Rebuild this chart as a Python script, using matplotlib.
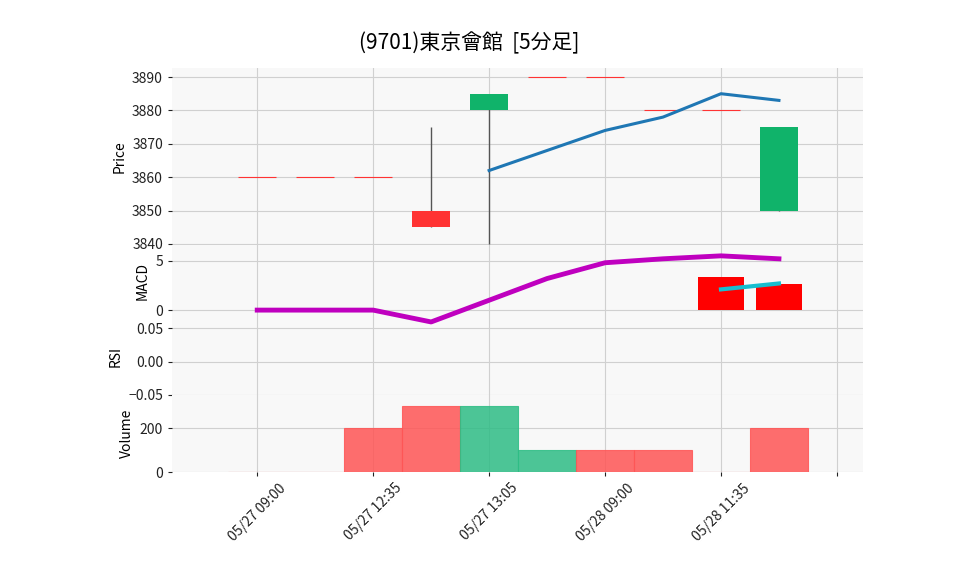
import matplotlib
matplotlib.use("Agg")
import matplotlib.pyplot as plt
import numpy as np

plt.rcParams['font.family'] = ['Noto Sans CJK JP', 'DejaVu Sans']

dates = ["05/27 09:00", "05/27 09:05", "05/27 12:35", "05/27 12:40", "05/27 13:05",
         "05/27 13:10", "05/28 09:00", "05/28 09:05", "05/28 11:35", "05/28 11:40"]
opens  = [3860, 3860, 3860, 3850, 3880, 3890, 3890, 3880, 3880, 3850]
highs  = [3860, 3860, 3860, 3875, 3885, 3890, 3890, 3880, 3880, 3875]
lows   = [3860, 3860, 3860, 3845, 3840, 3890, 3890, 3880, 3880, 3850]
closes = [3860, 3860, 3860, 3845, 3885, 3890, 3890, 3880, 3880, 3875]
ma     = [None, None, None, None, 3862, 3868, 3874, 3878, 3885, 3883]
macd   = [0, 0, 0, -1.2, 1.0, 3.2, 4.8, 5.2, 5.5, 5.2]
signal = [None]*8 + [2.1, 2.7]
hist   = [None]*8 + [3.4, 2.6]
volume = [0, 0, 200, 300, 300, 100, 100, 100, 0, 200]
vol_up = [False, False, False, False, True, True, False, False, False, False]

UP = '#10b36a'; DOWN = '#ff3333'
fig = plt.figure(figsize=(9.58, 5.75), dpi=100)
L, W = 172/958, 691/958
def rect(t, b): return [L, 1-b/575, W, (b-t)/575]
ax1 = fig.add_axes(rect(68, 245))
ax2 = fig.add_axes(rect(245, 318), sharex=ax1)
ax3 = fig.add_axes(rect(318, 395), sharex=ax1)
ax4 = fig.add_axes(rect(395, 472), sharex=ax1)
x = np.arange(len(dates))
for ax in (ax1, ax2, ax3, ax4):
    ax.set_facecolor('#f8f8f8')
    ax.grid(True, color='#d0d0d0', linewidth=0.8)
    ax.set_axisbelow(True)
    for s in ax.spines.values(): s.set_visible(False)
    ax.tick_params(length=3, labelsize=10, colors='#222222')

bw = 0.65
for i in x:
    o, h, l, c = opens[i], highs[i], lows[i], closes[i]
    col = UP if c > o else DOWN
    if h != l:
        ax1.vlines(i, l, h, color='#555555', linewidth=1, zorder=2)
    if o == c:
        ax1.hlines(o, i-bw/2, i+bw/2, color=DOWN, linewidth=0.8, zorder=3)
    else:
        ax1.bar(i, abs(c-o), bottom=min(o, c), width=bw, color=col, zorder=3)
mx = [i for i in x if ma[i] is not None]
ax1.plot(mx, [ma[i] for i in mx], color='#1f77b4', linewidth=2.2, zorder=4)
ax1.set_ylim(3839.7, 3892.7)
ax1.set_yticks([3840, 3850, 3860, 3870, 3880, 3890])
ax1.set_ylabel('Price', fontsize=10)

ax2.set_zorder(5)
ax2.patch.set_visible(True)
ax2.plot(x, macd, color='#bf00bf', linewidth=3.5, clip_on=False)
hx = [i for i in x if hist[i] is not None]
ax2.bar(hx, [hist[i] for i in hx], width=0.8, color='#ff0000')
ax2.plot(hx, [signal[i] for i in hx], color='#17becf', linewidth=3)
ax2.set_ylim(-0.8, 6.6)
ax2.set_yticks([0, 5])
ax2.set_ylabel('MACD', fontsize=10)

ax3.set_ylim(-0.05, 0.065)
ax3.set_yticks([-0.05, 0.0, 0.05])
ax3.set_yticklabels(['−0.05', '0.00', '0.05'])
ax3.set_ylabel('RSI', fontsize=10)

vcol = ['#2ebd85' if u else '#ff5555' for u in vol_up]
ax4.bar(x, volume, width=1.0, color=vcol, alpha=0.85, edgecolor=vcol, linewidth=0.8)
ax4.set_ylim(0, 350)
ax4.set_yticks([0, 200])
ax4.set_ylabel('Volume', fontsize=10)

ax1.set_xlim(-1.47, 10.45)
ticks = [0, 2, 4, 6, 8, 10]
ax4.set_xticks(ticks)
ax4.set_xticklabels([dates[t] if t < len(dates) else '' for t in ticks], rotation=45, fontsize=10)
for ax in (ax1, ax2, ax3):
    ax.tick_params(labelbottom=False, bottom=False)
fig.suptitle('(9701)東京會館  [5分足]', x=0.49, y=0.945, fontsize=15)
fig.savefig('out.png', dpi=100)
